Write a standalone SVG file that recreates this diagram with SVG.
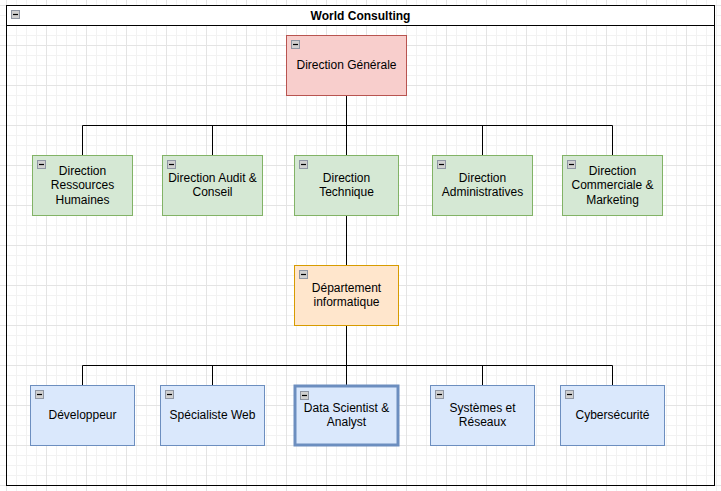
<svg xmlns="http://www.w3.org/2000/svg" width="721" height="491" viewBox="0 0 721 491">
  <defs>
    <pattern id="minor" patternUnits="userSpaceOnUse" x="6" y="5" width="10" height="10">
      <path d="M0.5 0V10M0 0.5H10" stroke="#f2f2f2" stroke-width="1" fill="none"/>
    </pattern>
    <pattern id="major" patternUnits="userSpaceOnUse" x="6" y="5" width="40" height="40">
      <path d="M0.5 0V40M0 0.5H40" stroke="#e4e4e4" stroke-width="1" fill="none"/>
    </pattern>
    <g id="tog">
      <rect x="0.5" y="0.5" width="8" height="8" fill="#d0d0d0" stroke="#8f96a3" stroke-width="1"/>
      <path d="M2 4.5H7" stroke="#000" stroke-width="1.2"/>
    </g>
  </defs>
  <style>
    text { font-family: "Liberation Sans", Arial, sans-serif; font-size: 12px; fill: #000; text-anchor: middle; }
    .title { font-weight: bold; }
    .red { fill: #f8cecc; stroke: #b85450; stroke-width: 1; }
    .green { fill: #d5e8d4; stroke: #82b366; stroke-width: 1; }
    .orange { fill: #ffe6cc; stroke: #d79b00; stroke-width: 1; }
    .blue { fill: #dae8fc; stroke: #6c8ebf; stroke-width: 1; }
    .blue.sel { stroke-width: 3; }
    .edge { fill: none; stroke: #000; stroke-width: 1; }
  </style>

  <rect width="721" height="491" fill="#ffffff"/>
  <rect width="721" height="491" fill="url(#minor)"/>
  <rect width="721" height="491" fill="url(#major)"/>

  <g id="container">
    <rect x="6.5" y="5.5" width="708" height="20" fill="#ffffff" stroke="#000" stroke-width="1"/>
    <rect x="6.5" y="5.5" width="708" height="480" fill="none" stroke="#000" stroke-width="1"/>
    <use href="#tog" x="11" y="10"/>
    <text class="title" x="360.5" y="19.5">World Consulting</text>
  </g>

  <g id="connectors">
    <path class="edge" d="M346.5 95.5V125.5M82.5 155.5V125.5H612.5V155.5M212.5 125.5V155.5M346.5 125.5V155.5M482.5 125.5V155.5"/>
    <path class="edge" d="M346.5 215.5V265.5"/>
    <path class="edge" d="M346.5 325.5V365.5M82.5 385.5V365.5H612.5V385.5M212.5 365.5V385.5M346.5 365.5V385.5M482.5 365.5V385.5"/>
  </g>

  <g id="direction-generale">
    <rect class="red" x="286.5" y="35.5" width="120" height="60"/>
    <use href="#tog" x="291" y="40"/>
    <text x="346.5" y="69">Direction Générale</text>
  </g>

  <g id="direction-rh">
    <rect class="green" x="32.5" y="155.5" width="100" height="60"/>
    <use href="#tog" x="37" y="160"/>
    <text x="82.5" y="175">Direction</text>
    <text x="82.5" y="189.4">Ressources</text>
    <text x="82.5" y="203.8">Humaines</text>
  </g>

  <g id="direction-audit">
    <rect class="green" x="162.5" y="155.5" width="100" height="60"/>
    <use href="#tog" x="167" y="160"/>
    <text x="212.5" y="181.8">Direction Audit &amp;</text>
    <text x="212.5" y="196.2">Conseil</text>
  </g>

  <g id="direction-technique">
    <rect class="green" x="294.5" y="155.5" width="104" height="60"/>
    <use href="#tog" x="299" y="160"/>
    <text x="346.5" y="181.8">Direction</text>
    <text x="346.5" y="196.2">Technique</text>
  </g>

  <g id="direction-admin">
    <rect class="green" x="432.5" y="155.5" width="100" height="60"/>
    <use href="#tog" x="437" y="160"/>
    <text x="482.5" y="181.8">Direction</text>
    <text x="482.5" y="196.2">Administratives</text>
  </g>

  <g id="direction-commerciale">
    <rect class="green" x="562.5" y="155.5" width="100" height="60"/>
    <use href="#tog" x="567" y="160"/>
    <text x="612.5" y="175">Direction</text>
    <text x="612.5" y="189.4">Commerciale &amp;</text>
    <text x="612.5" y="203.8">Marketing</text>
  </g>

  <g id="departement-informatique">
    <rect class="orange" x="294.5" y="265.5" width="104" height="60"/>
    <use href="#tog" x="299" y="270"/>
    <text x="346.5" y="291.8">Département</text>
    <text x="346.5" y="306.2">informatique</text>
  </g>

  <g id="developpeur">
    <rect class="blue" x="30.5" y="385.5" width="104" height="60"/>
    <use href="#tog" x="35" y="390"/>
    <text x="82.5" y="418.7">Développeur</text>
  </g>

  <g id="specialiste-web">
    <rect class="blue" x="160.5" y="385.5" width="104" height="60"/>
    <use href="#tog" x="165" y="390"/>
    <text x="212.5" y="418.7">Spécialiste Web</text>
  </g>

  <g id="data-scientist">
    <rect class="blue sel" x="295" y="386" width="103" height="59"/>
    <use href="#tog" x="300" y="391"/>
    <text x="346.5" y="411.8">Data Scientist &amp;</text>
    <text x="346.5" y="426.2">Analyst</text>
  </g>

  <g id="systemes-reseaux">
    <rect class="blue" x="430.5" y="385.5" width="104" height="60"/>
    <use href="#tog" x="435" y="390"/>
    <text x="482.5" y="411.8">Systèmes et</text>
    <text x="482.5" y="426.2">Réseaux</text>
  </g>

  <g id="cybersecurite">
    <rect class="blue" x="560.5" y="385.5" width="104" height="60"/>
    <use href="#tog" x="565" y="390"/>
    <text x="612.5" y="418.7">Cybersécurité</text>
  </g>
</svg>
